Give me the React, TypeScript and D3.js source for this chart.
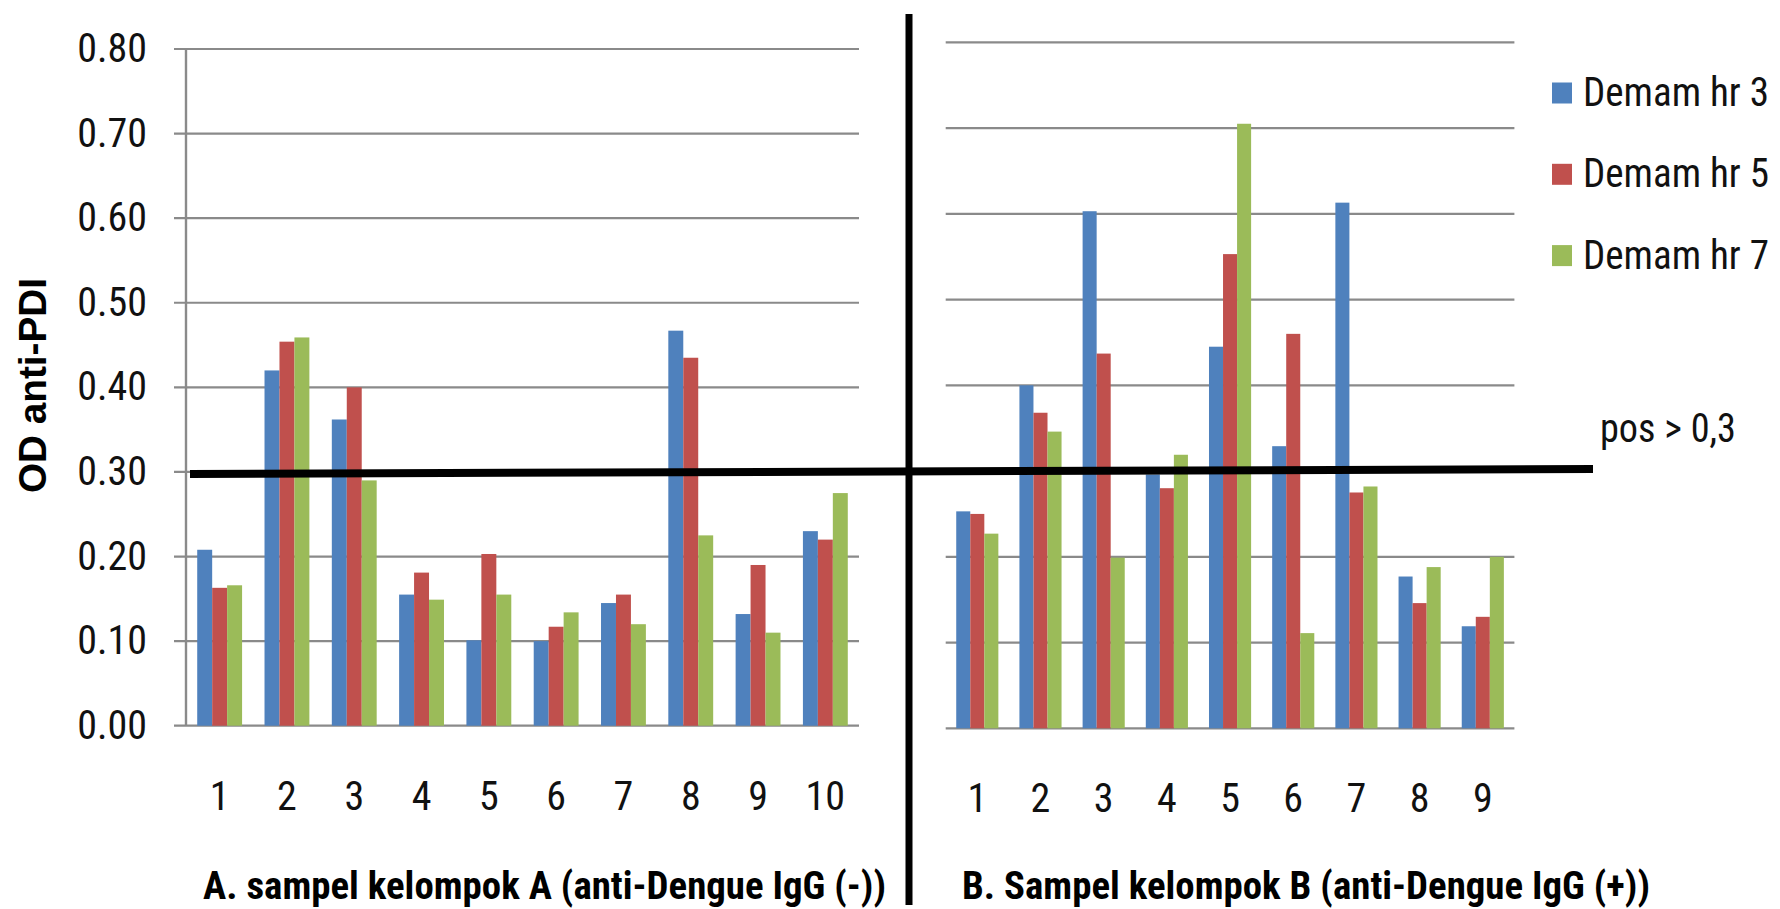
import React from "react";
import * as d3 from "d3";

const seriesNames = ["Demam hr 3", "Demam hr 5", "Demam hr 7"];
const seriesColors = ["#4F81BD", "#C0504D", "#9BBB59"];
const yTicks = [0, 0.1, 0.2, 0.3, 0.4, 0.5, 0.6, 0.7, 0.8];

const groupACategories = ["1", "2", "3", "4", "5", "6", "7", "8", "9", "10"];
const groupAHr3 = [0.208, 0.42, 0.362, 0.155, 0.101, 0.1, 0.145, 0.467, 0.132, 0.23];
const groupAHr5 = [0.163, 0.454, 0.4, 0.181, 0.203, 0.117, 0.155, 0.435, 0.19, 0.22];
const groupAHr7 = [0.166, 0.459, 0.29, 0.149, 0.155, 0.134, 0.12, 0.225, 0.11, 0.275];

const groupBCategories = ["1", "2", "3", "4", "5", "6", "7", "8", "9"];
const groupBHr3 = [0.253, 0.4, 0.603, 0.296, 0.445, 0.329, 0.613, 0.177, 0.119];
const groupBHr5 = [0.25, 0.368, 0.437, 0.28, 0.553, 0.46, 0.275, 0.146, 0.13];
const groupBHr7 = [0.227, 0.346, 0.199, 0.319, 0.705, 0.111, 0.282, 0.188, 0.2];

const threshold = 0.3;
const thresholdLabel = "pos > 0,3";
const yTitle = "OD anti-PDI";
const titleA = "A. sampel kelompok A (anti-Dengue IgG (-))";
const titleB = "B. Sampel kelompok B (anti-Dengue IgG (+))";

const W = 1780;
const H = 909;
const NARROW = "'Liberation Sans Narrow', 'Arial Narrow', 'Roboto Condensed', sans-serif";
const BOLD = "'Liberation Sans', Arial, sans-serif";
const GRID = "#8a8a8a";

type PanelProps = {
  cats: string[];
  values: number[][];
  x0: number;
  x1: number;
  yBottom: number;
  yTop: number;
  gridStart: number;
  showAxis: boolean;
};

function Panel({ cats, values, x0, x1, yBottom, yTop, gridStart, showAxis }: PanelProps) {
  const y = d3.scaleLinear().domain([0, 0.8]).range([yBottom, yTop]);
  const xb = d3.scaleBand<string>().domain(cats).range([x0, x1]).padding(0);
  const xs = d3
    .scaleBand<string>()
    .domain(seriesNames)
    .range([0, xb.bandwidth()])
    .paddingInner(0)
    .paddingOuter(0.75);
  return (
    <g>
      {yTicks.map((t) => (
        <line
          key={"g" + t}
          x1={gridStart}
          x2={x1}
          y1={y(t)}
          y2={y(t)}
          stroke={GRID}
          strokeWidth={2.2}
        />
      ))}
      {showAxis && (
        <line x1={x0} x2={x0} y1={y(0.8)} y2={y(0)} stroke={GRID} strokeWidth={2.4} />
      )}
      {cats.map((c, i) => (
        <g key={c}>
          {seriesNames.map((s, j) => {
            const v = values[j][i];
            return (
              <rect
                key={s}
                x={(xb(c) as number) + (xs(s) as number)}
                y={y(v)}
                width={xs.bandwidth()}
                height={y(0) - y(v)}
                fill={seriesColors[j]}
              />
            );
          })}
          <text
            x={(xb(c) as number) + xb.bandwidth() / 2}
            y={y(0) + 84}
            textAnchor="middle"
            fontFamily={NARROW}
            fontSize={40}
            fill="#111"
          >
            {c}
          </text>
        </g>
      ))}
    </g>
  );
}

export default function App() {
  const yLeft = d3.scaleLinear().domain([0, 0.8]).range([725.7, 49]);
  const yRight = d3.scaleLinear().domain([0, 0.8]).range([728.3, 42.3]);
  return (
    <svg
      width={W}
      height={H}
      style={{ position: "absolute", left: 0, top: 0, background: "#fff" }}
    >
      <rect x={0} y={0} width={W} height={H} fill="#fff" />
      <Panel
        cats={groupACategories}
        values={[groupAHr3, groupAHr5, groupAHr7]}
        x0={186}
        x1={859}
        yBottom={725.7}
        yTop={49}
        gridStart={174}
        showAxis={true}
      />
      <Panel
        cats={groupBCategories}
        values={[groupBHr3, groupBHr5, groupBHr7]}
        x0={945.7}
        x1={1514.4}
        yBottom={728.3}
        yTop={42.3}
        gridStart={945.7}
        showAxis={false}
      />
      {yTicks.map((t) => (
        <text
          key={"t" + t}
          x={147}
          y={yLeft(t) + 13}
          textAnchor="end"
          fontFamily={NARROW}
          fontSize={40}
          fill="#111"
        >
          {t.toFixed(2)}
        </text>
      ))}
      <text
        transform={`translate(46, 385.5) rotate(-90)`}
        textAnchor="middle"
        fontFamily={BOLD}
        fontWeight="bold"
        fontSize={38}
        textLength={215}
        lengthAdjust="spacingAndGlyphs"
        fill="#000"
      >
        {yTitle}
      </text>
      <text
        x={203}
        y={899}
        fontFamily={NARROW}
        fontWeight="bold"
        fontSize={39}
        textLength={683}
        lengthAdjust="spacingAndGlyphs"
        fill="#000"
      >
        {titleA}
      </text>
      <text
        x={962}
        y={899}
        fontFamily={NARROW}
        fontWeight="bold"
        fontSize={39}
        textLength={688}
        lengthAdjust="spacingAndGlyphs"
        fill="#000"
      >
        {titleB}
      </text>
      {seriesNames.map((s, i) => (
        <g key={s} transform={`translate(1552, ${93 + i * 81.3})`}>
          <rect x={0} y={-10.5} width={20} height={21} fill={seriesColors[i]} />
          <text
            x={31}
            y={13}
            fontFamily={NARROW}
            fontSize={40}
            textLength={186}
            lengthAdjust="spacingAndGlyphs"
            fill="#111"
          >
            {s}
          </text>
        </g>
      ))}
      <line
        x1={190}
        x2={1593}
        y1={yLeft(threshold) + 2}
        y2={yRight(threshold) - 2}
        stroke="#000"
        strokeWidth={8}
      />
      <line x1={909} x2={909} y1={14} y2={905} stroke="#000" strokeWidth={7} />
      <text
        x={1600}
        y={441.7}
        fontFamily={NARROW}
        fontSize={40}
        textLength={136}
        lengthAdjust="spacingAndGlyphs"
        fill="#111"
      >
        {thresholdLabel}
      </text>
    </svg>
  );
}
